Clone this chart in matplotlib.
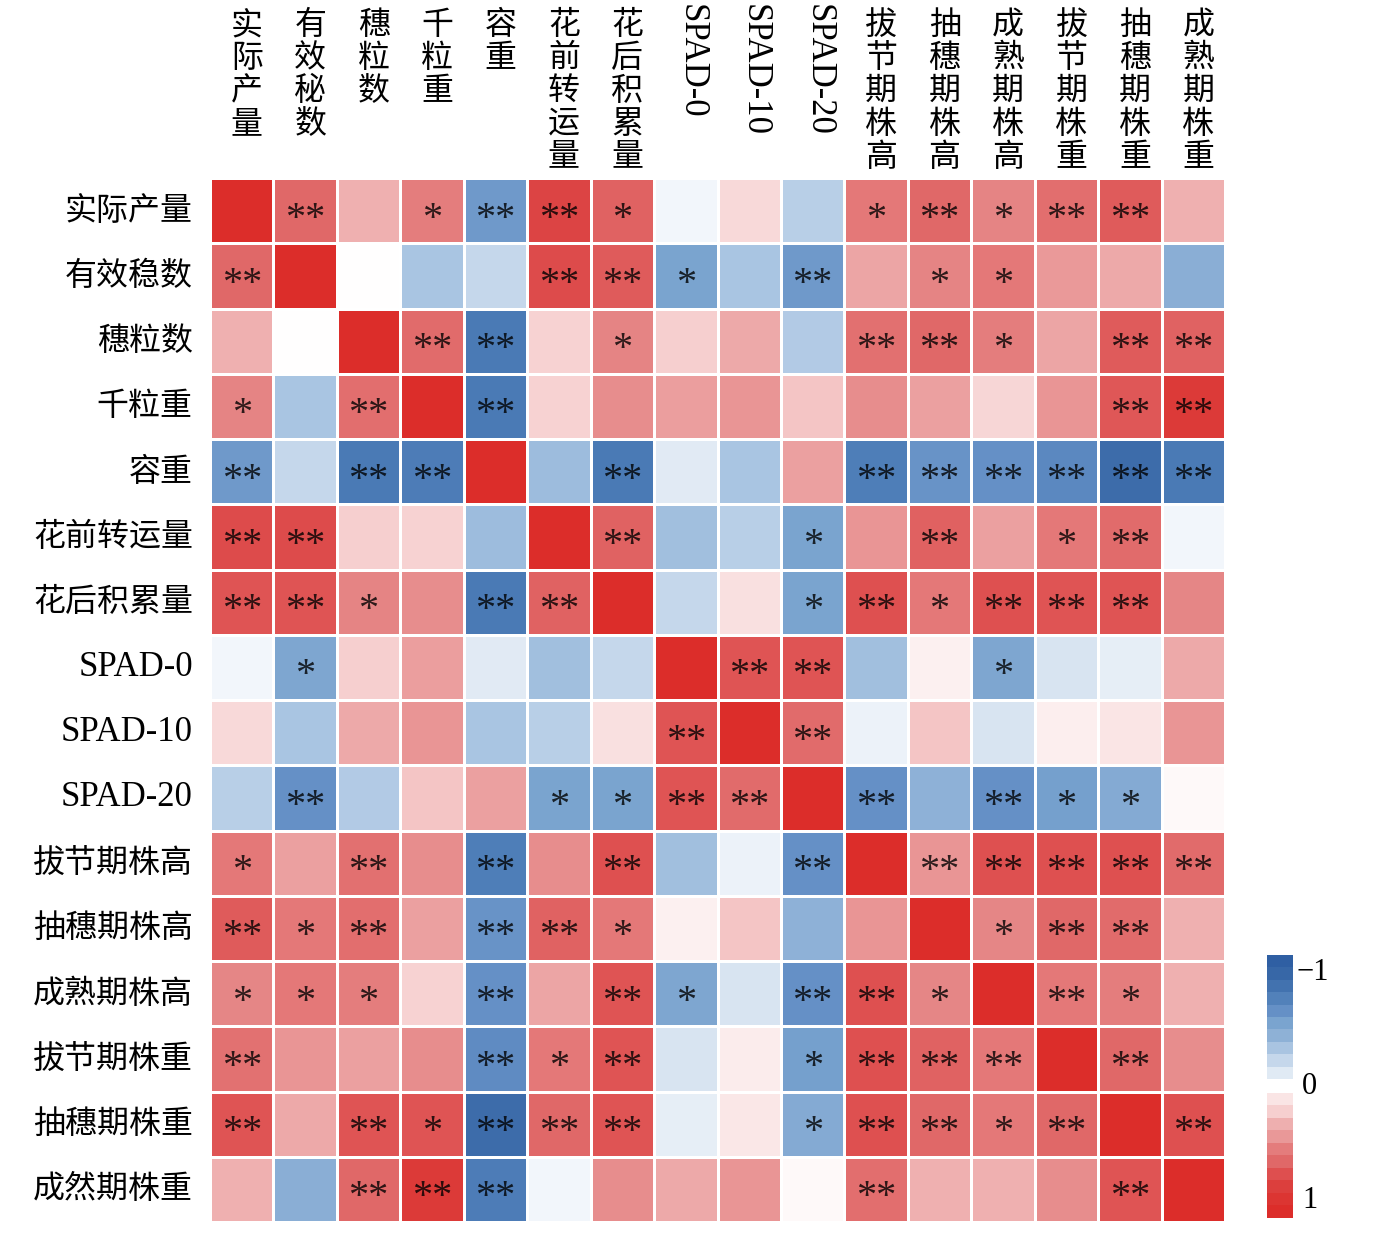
import numpy as np
import matplotlib
matplotlib.use("Agg")
import matplotlib.pyplot as plt
import matplotlib.transforms as mtransforms
from matplotlib.colors import LinearSegmentedColormap, Normalize

row_labels = ["实际产量", "有效稳数", "穗粒数", "千粒重", "容重", "花前转运量", "花后积累量",
              "SPAD-0", "SPAD-10", "SPAD-20", "拔节期株高", "抽穗期株高", "成熟期株高",
              "拔节期株重", "抽穗期株重", "成然期株重"]
col_labels = ["实际产量", "有效秘数", "穗粒数", "千粒重", "容重", "花前转运量", "花后积累量",
              "SPAD-0", "SPAD-10", "SPAD-20", "拔节期株高", "抽穗期株高", "成熟期株高",
              "拔节期株重", "抽穗期株重", "成熟期株重"]

corr = np.array([
    [1.00, 0.60, 0.30, 0.50, -0.55, 0.75, 0.62, -0.05, 0.15, -0.25, 0.52, 0.60, 0.48, 0.57, 0.65, 0.30],
    [0.60, 1.00, 0.00, -0.30, -0.20, 0.72, 0.65, -0.50, -0.30, -0.55, 0.35, 0.48, 0.52, 0.40, 0.33, -0.42],
    [0.30, 0.00, 1.00, 0.58, -0.75, 0.18, 0.48, 0.20, 0.33, -0.27, 0.56, 0.60, 0.50, 0.35, 0.65, 0.62],
    [0.48, -0.30, 0.57, 1.00, -0.75, 0.18, 0.45, 0.38, 0.42, 0.23, 0.45, 0.37, 0.17, 0.42, 0.67, 0.85],
    [-0.55, -0.20, -0.75, -0.73, 1.00, -0.35, -0.75, -0.10, -0.30, 0.37, -0.72, -0.58, -0.60, -0.65, -0.85, -0.75],
    [0.72, 0.72, 0.20, 0.18, -0.35, 1.00, 0.62, -0.33, -0.25, -0.50, 0.42, 0.63, 0.37, 0.52, 0.58, -0.05],
    [0.68, 0.68, 0.48, 0.45, -0.75, 0.62, 1.00, -0.20, 0.12, -0.50, 0.70, 0.52, 0.70, 0.68, 0.68, 0.47],
    [-0.05, -0.48, 0.20, 0.38, -0.10, -0.33, -0.20, 1.00, 0.68, 0.68, -0.33, 0.05, -0.48, -0.13, -0.08, 0.33],
    [0.15, -0.30, 0.33, 0.42, -0.30, -0.25, 0.12, 0.68, 1.00, 0.58, -0.07, 0.23, -0.13, 0.06, 0.10, 0.42],
    [-0.25, -0.60, -0.27, 0.23, 0.37, -0.50, -0.50, 0.68, 0.58, 1.00, -0.60, -0.40, -0.60, -0.52, -0.45, 0.02],
    [0.52, 0.37, 0.56, 0.45, -0.72, 0.45, 0.70, -0.33, -0.07, -0.60, 1.00, 0.42, 0.70, 0.70, 0.70, 0.58],
    [0.65, 0.52, 0.57, 0.37, -0.58, 0.62, 0.52, 0.05, 0.23, -0.40, 0.42, 1.00, 0.47, 0.60, 0.58, 0.30],
    [0.47, 0.52, 0.50, 0.18, -0.60, 0.35, 0.68, -0.48, -0.13, -0.60, 0.70, 0.47, 1.00, 0.52, 0.50, 0.30],
    [0.55, 0.42, 0.37, 0.45, -0.63, 0.52, 0.68, -0.13, 0.07, -0.52, 0.70, 0.62, 0.52, 1.00, 0.60, 0.45],
    [0.68, 0.33, 0.68, 0.68, -0.85, 0.60, 0.68, -0.08, 0.09, -0.45, 0.70, 0.60, 0.52, 0.60, 1.00, 0.70],
    [0.30, -0.42, 0.60, 0.85, -0.73, -0.05, 0.45, 0.33, 0.42, 0.02, 0.57, 0.30, 0.30, 0.45, 0.68, 1.00],
])

sig = [
    ["", "**", "", "*", "**", "**", "*", "", "", "", "*", "**", "*", "**", "**", ""],
    ["**", "", "", "", "", "**", "**", "*", "", "**", "", "*", "*", "", "", ""],
    ["", "", "", "**", "**", "", "*", "", "", "", "**", "**", "*", "", "**", "**"],
    ["*", "", "**", "", "**", "", "", "", "", "", "", "", "", "", "**", "**"],
    ["**", "", "**", "**", "", "", "**", "", "", "", "**", "**", "**", "**", "**", "**"],
    ["**", "**", "", "", "", "", "**", "", "", "*", "", "**", "", "*", "**", ""],
    ["**", "**", "*", "", "**", "**", "", "", "", "*", "**", "*", "**", "**", "**", ""],
    ["", "*", "", "", "", "", "", "", "**", "**", "", "", "*", "", "", ""],
    ["", "", "", "", "", "", "", "**", "", "**", "", "", "", "", "", ""],
    ["", "**", "", "", "", "*", "*", "**", "**", "", "**", "", "**", "*", "*", ""],
    ["*", "", "**", "", "**", "", "**", "", "", "**", "", "**", "**", "**", "**", "**"],
    ["**", "*", "**", "", "**", "**", "*", "", "", "", "", "", "*", "**", "**", ""],
    ["*", "*", "*", "", "**", "", "**", "*", "", "**", "**", "*", "", "**", "*", ""],
    ["**", "", "", "", "**", "*", "**", "", "", "*", "**", "**", "**", "", "**", ""],
    ["**", "", "**", "*", "**", "**", "**", "", "", "*", "**", "**", "*", "**", "", "**"],
    ["", "", "**", "**", "**", "", "", "", "", "", "**", "", "", "", "**", ""],
]

cbar_ticks = [-1, 0, 1]

anchors = [
    (-1.00, "#2F5FA3"), (-0.85, "#3D6CAA"), (-0.75, "#4A7AB5"), (-0.60, "#6590C6"),
    (-0.50, "#7AA4CF"), (-0.42, "#8AAED5"), (-0.30, "#AAC5E2"), (-0.20, "#C5D7EB"),
    (-0.10, "#E0EAF4"), (-0.05, "#F2F6FB"), (0.00, "#FFFFFF"), (0.05, "#FCF0F0"),
    (0.15, "#F8DADA"), (0.20, "#F6CFCF"), (0.30, "#EFB0B0"), (0.35, "#ECA5A5"),
    (0.42, "#E99595"), (0.48, "#E58585"), (0.52, "#E47878"), (0.60, "#E06868"),
    (0.68, "#DF5555"), (0.75, "#DC4545"), (0.85, "#DC3A38"), (1.00, "#DC2D2A"),
]
cmap = LinearSegmentedColormap.from_list("cc", [((v + 1) / 2, c) for v, c in anchors])
norm = Normalize(-1, 1)

W, H = 1374, 1235
fig = plt.figure(figsize=(W / 100, H / 100), dpi=100)
ax = fig.add_axes([210 / W, 1 - 1222 / H, (1225 - 210) / W, (1222 - 178) / H])
n = len(row_labels)
ax.pcolormesh(np.arange(n + 1), np.arange(n + 1), corr, cmap=cmap, norm=norm,
              edgecolors="white", linewidth=1.0)
ax.set_xlim(0, n)
ax.set_ylim(n, 0)
ax.set_xticks([])
ax.set_yticks([])
for s in ax.spines.values():
    s.set_visible(False)

for i in range(n):
    for j in range(n):
        if sig[i][j]:
            ax.text(j + 0.5, i + 0.63, sig[i][j], ha="center", va="center",
                    fontsize=29, family=["Liberation Serif"], color="black", alpha=0.8)

cjk = ["Noto Sans CJK SC", "DejaVu Sans"]
latin = ["Liberation Serif"]

# row labels
for i, lab in enumerate(row_labels):
    if lab.startswith("SPAD"):
        ax.text(-0.27, i + 0.5, lab, ha="right", va="center", fontsize=25, family=latin)
    else:
        ax.text(-0.27, i + 0.5, lab, ha="right", va="center", fontsize=23, family=cjk)

# column labels
tr = mtransforms.blended_transform_factory(ax.transData, fig.transFigure)
pitch = 32.8
for j, lab in enumerate(col_labels):
    x = j + 0.58
    if lab.startswith("SPAD"):
        ax.text(x, 1 - 4 / H, lab, transform=tr, rotation=-90, ha="center", va="top",
                fontsize=25, family=latin)
    else:
        for k, ch in enumerate(lab):
            yc = 9 + pitch / 2 + k * pitch
            ax.text(x, 1 - yc / H, ch, transform=tr, ha="center", va="center",
                    fontsize=23, family=cjk)

# colorbar (stepped, -1 at top)
blue_levels = np.linspace(-1, -0.1, 10)
red_levels = np.linspace(0.1, 1, 10)
cb1 = fig.add_axes([1267 / W, 1 - 1079 / H, 26 / W, (1079 - 955) / H])
cb1.imshow(blue_levels[:, None], cmap=cmap, norm=norm, aspect="auto", interpolation="nearest")
cb2 = fig.add_axes([1267 / W, 1 - 1218 / H, 26 / W, (1218 - 1093) / H])
cb2.imshow(red_levels[:, None], cmap=cmap, norm=norm, aspect="auto", interpolation="nearest")
for c in (cb1, cb2):
    c.set_axis_off()
tick_y = {-1: 972, 0: 1087, 1: 1200}
for t in cbar_ticks:
    lab = "\u22121" if t < 0 else str(t)
    fig.text(1297 / W if t < 0 else 1302 / W, 1 - tick_y[t] / H, lab, ha="left", va="center",
             fontsize=22, family=latin)

fig.savefig("out.png", dpi=100)
